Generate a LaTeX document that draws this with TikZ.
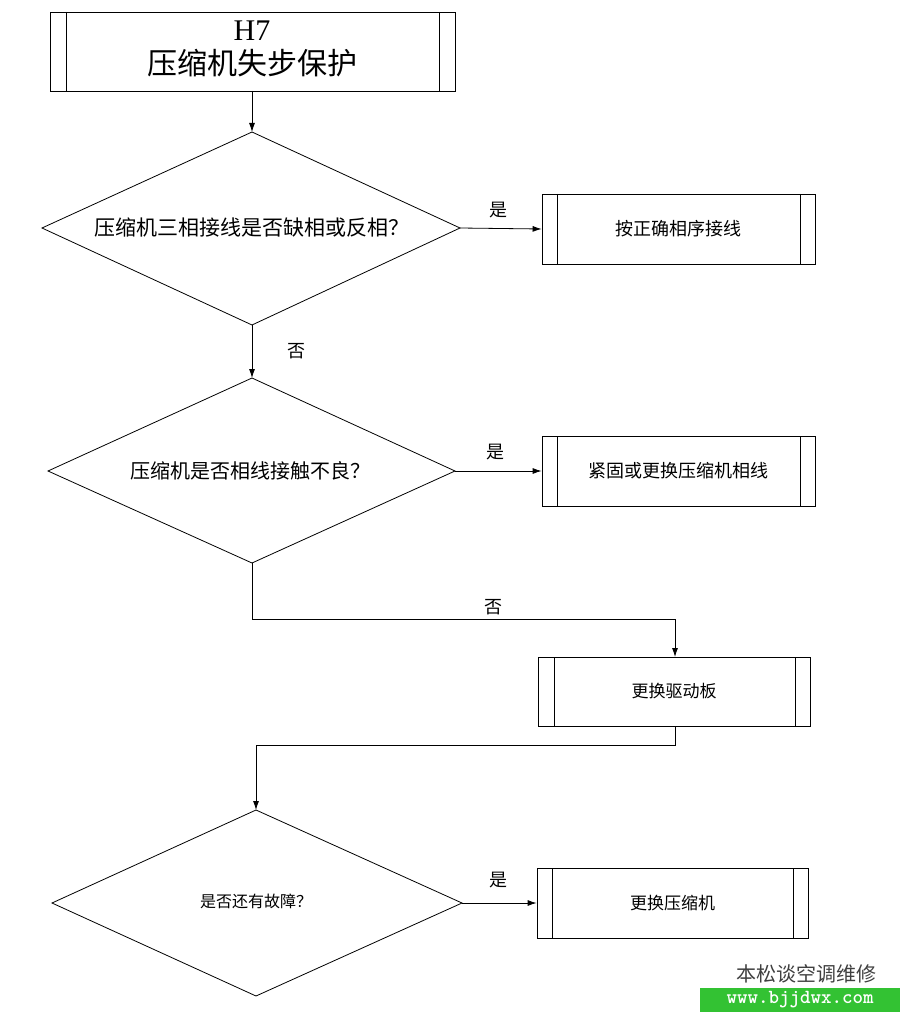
\documentclass[tikz,border=0pt]{standalone}
\usepackage{fontspec}
\setmainfont{Liberation Serif}
\newfontfamily\cjk{Noto Sans CJK SC}
\usetikzlibrary{arrows.meta}
\begin{document}
\begin{tikzpicture}[x=1pt,y=-1pt,
  ln/.style={line width=0.8pt},
  arr/.style={ln,-{Latex[length=9pt,width=6pt]}},
  lbl/.style={font=\cjk\fontsize{18}{18}\selectfont}]
\useasboundingbox (0,0) rectangle (905,1016);
\fill[white] (0,0) rectangle (905,1016);
% top box
\node[ln,draw,minimum width=405pt,minimum height=79pt,inner sep=0,align=center] (t) at (252.5,51.5) {};
\draw[ln] (66,12) -- (66,91) (439,12) -- (439,91);
\node[align=center,font=\fontsize{30}{34}\selectfont] at (252,49) {H7\\{\cjk 压缩机失步保护}};
% diamond 1
\coordinate (d1t) at (252,132); \coordinate (d1b) at (252,325);
\coordinate (d1l) at (42,228); \coordinate (d1r) at (460,228);
\draw[ln] (d1t) -- (d1r) -- (d1b) -- (d1l) -- cycle;
\node[font=\cjk\fontsize{21}{21}\selectfont] at (252,228) {压缩机三相接线是否缺相或反相？};
\coordinate (tb) at (252,91);
\draw[arr] (tb) -- (d1t);
% box1
\node[ln,draw,minimum width=273pt,minimum height=70pt,inner sep=0,font=\cjk\fontsize{18}{18}\selectfont] (b1) at (678.5,229) {按正确相序接线};
\draw[ln] (557,194) -- (557,264) (800,194) -- (800,264);
\draw[arr] (d1r) -- (b1.west);
\node[lbl] at (498,210) {是};
% diamond 2
\coordinate (d2t) at (252,378); \coordinate (d2b) at (252,563);
\coordinate (d2l) at (48,471); \coordinate (d2r) at (455,471);
\draw[ln] (d2t) -- (d2r) -- (d2b) -- (d2l) -- cycle;
\node[font=\cjk\fontsize{20}{20}\selectfont] at (250,471) {压缩机是否相线接触不良？};
\draw[arr] (d1b) -- (d2t);
\node[lbl] at (296,351) {否};
% box2
\node[ln,draw,minimum width=273pt,minimum height=70pt,inner sep=0,font=\cjk\fontsize{18}{18}\selectfont] (b2) at (678.5,471) {紧固或更换压缩机相线};
\draw[ln] (557,436) -- (557,506) (800,436) -- (800,506);
\draw[arr] (d2r) -- (b2.west);
\node[lbl] at (495,452) {是};
% box3
\node[ln,draw,minimum width=272pt,minimum height=69pt,inner sep=0,font=\cjk\fontsize{17}{17}\selectfont] (b3) at (674,691.5) {更换驱动板};
\draw[ln] (554,657) -- (554,726) (795,657) -- (795,726);
\draw[arr] (d2b) -- (252,619) -- (675,619) -- (675,657);
\node[lbl] at (493,607) {否};
% diamond 3
\coordinate (d3t) at (256,810); \coordinate (d3b) at (256,996);
\coordinate (d3l) at (52,903); \coordinate (d3r) at (462,903);
\draw[ln] (d3t) -- (d3r) -- (d3b) -- (d3l) -- cycle;
\node[font=\cjk\fontsize{16}{16}\selectfont] at (256,901) {是否还有故障？};
\draw[arr] (675,726) -- (675,745) -- (256,745) -- (d3t);
% box4
\node[ln,draw,minimum width=271pt,minimum height=70pt,inner sep=0,font=\cjk\fontsize{17}{17}\selectfont] (b4) at (672.5,903) {更换压缩机};
\draw[ln] (552,868) -- (552,938) (793,868) -- (793,938);
\draw[arr] (d3r) -- (b4.west);
\node[lbl] at (498,880) {是};
% watermark
\node[font=\cjk\fontsize{20}{20}\selectfont,text=black!75,anchor=east] at (880,974) {本松谈空调维修};
\fill[green!70!black!80] (700,988) rectangle (900,1012);
\node[font=\ttfamily\bfseries\fontsize{20}{20}\selectfont,text=white] at (800,1000) {www.bjjdwx.com};
\end{tikzpicture}
\end{document}
